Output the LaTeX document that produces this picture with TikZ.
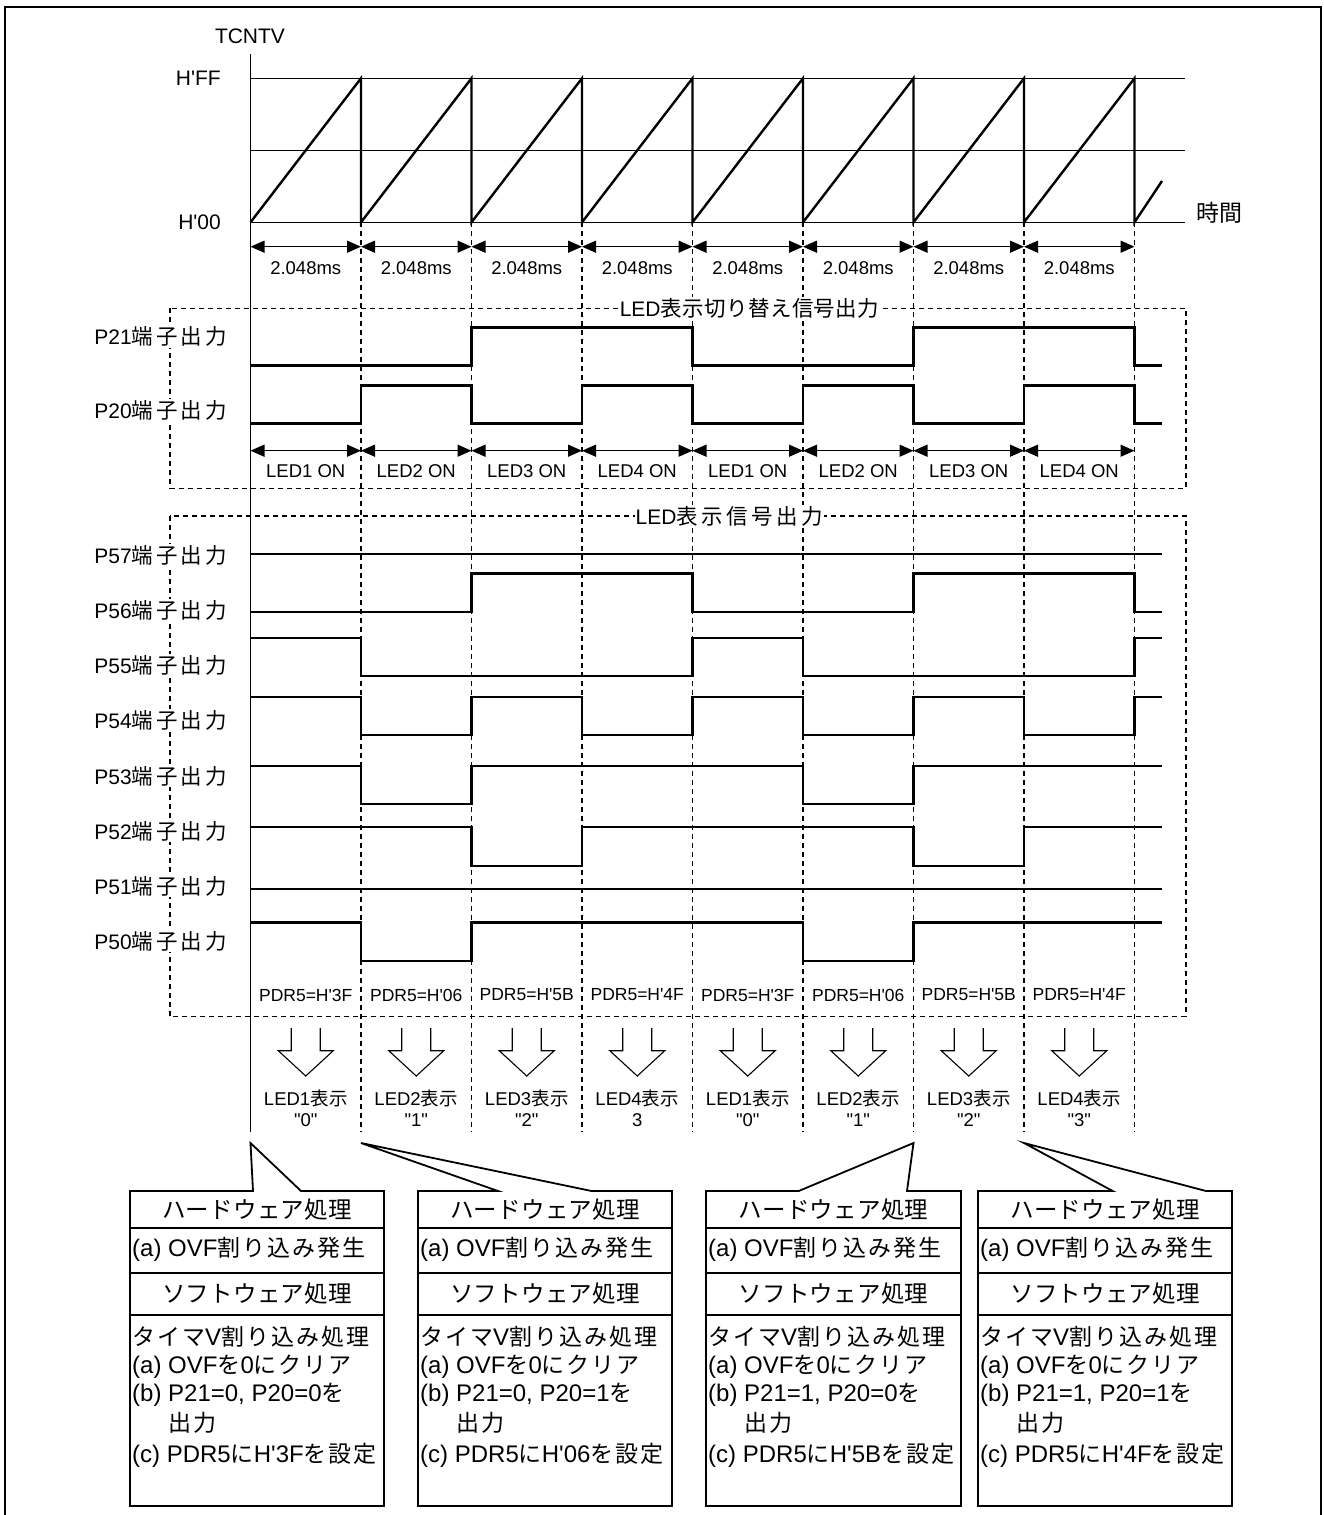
\documentclass[tikz,border=0pt]{standalone}
\usepackage{fontspec}
\usetikzlibrary{arrows.meta}
\newfontfamily\lat{Liberation Sans}
\newfontfamily\jpf{Noto Sans CJK JP}
\makeatletter
\newcommand\jsp[2]{{\jpf\@tfor\@jx:=#2\do{\@jx\kern#1}\kern-#1}}
\makeatother
\newcommand\JB[2][3pt]{{\fontsize{21.5}{25}\selectfont\jsp{#1}{#2}}}
\newcommand\JT[1]{{\fontsize{23}{27}\selectfont\jsp{0.5pt}{#1}}}
\newcommand\JS[1]{{\fontsize{18.5}{22}\selectfont\jsp{0.3pt}{#1}}}
\newcommand\JH[1]{{\fontsize{23.5}{27}\selectfont\jsp{0.2pt}{#1}}}
\newcommand\JC[1]{{\fontsize{23}{27}\selectfont\jsp{2pt}{#1}}}
\tikzset{
  sig/.style={line width=2.4pt, line join=miter},
  thinl/.style={line width=1.1pt},
  dsh/.style={line width=1.1pt, dash pattern=on 5pt off 4pt},
  dimarr/.style={line width=1.3pt, {Triangle[length=14pt,width=12pt]}-{Triangle[length=14pt,width=12pt]}},
  bigl/.style={font=\lat\fontsize{21}{25}\selectfont, inner sep=1pt},
  small/.style={font=\lat\fontsize{18.5}{22}\selectfont, inner sep=0pt},
  pdr/.style={font=\lat\fontsize{17.5}{21}\selectfont, inner sep=0pt},
  cbox/.style={line width=1.8pt, line join=miter},
  chead/.style={font=\lat\fontsize{23}{27}\selectfont, inner sep=0pt},
  cbody/.style={font=\lat\fontsize{24}{28}\selectfont, inner sep=0pt, anchor=west},
}
\newcommand\wave[4]{%
  \draw[sig] (250.5,{#2+(#1-#2)*#3}) \foreach[count=\i from 0, evaluate=\b as \yy using #2+(#1-#2)*\b] \b in {#4} { -- ({250.5+110.5*\i},\yy) -- ({min(250.5+110.5*(\i+1),1162)},\yy) };
}
\newcommand\callout[8]{%
  \draw[cbox] (#1,1191) -- (#3,1191) -- (#5,1143) -- (#4,1191) -- (#2,1191) -- (#2,1506) -- (#1,1506) -- cycle;
  \draw[cbox] (#1,1228) -- (#2,1228) (#1,1273) -- (#2,1273) (#1,1315) -- (#2,1315);
  \node[chead] (#8h1) at ({(#1+#2)/2},1209.5) {\JH{ハードウェア処理}};
  \node[cbody] (#8a) at (#1+2,1249) {(a) OVF\JC{割り込み発生}};
  \node[chead] (#8h2) at ({(#1+#2)/2},1294) {\JH{ソフトウェア処理}};
  \node[cbody] (#8t) at (#1+2,1337) {\JC{タイマ}V\JC{割り込み処理}};
  \node[cbody] (#8l1) at (#1+2,1367) {(a) OVF\JC{を}0\JC{にクリア}};
  \node[cbody] (#8l2) at (#1+2,1395) {(b) #6\JC{を}};
  \node[cbody] (#8l3) at (#1+38,1423) {\JC{出力}};
  \node[cbody] (#8l4) at (#1+2,1455) {(c) PDR5\JC{に}#7\JC{を設定}};
}
\begin{document}
\begin{tikzpicture}[x=1pt,y=-1pt]
\useasboundingbox (0,0) rectangle (1324,1515);
\fill[white] (0,0) rectangle (1324,1515);
% outer frame
\draw[line width=2.6pt] (5,1530) -- (5,7) -- (1321,7) -- (1321,1530);
% dashed time boundaries and axis
\foreach \i in {1,...,8} \draw[dsh] ({250.5+110.5*\i},222.3) -- ({250.5+110.5*\i},1132);
\draw[line width=1.2pt] (250.5,54) -- (250.5,1132);
% counter grid
\draw[thinl] (250.5,78.3) -- (1185,78.3) (250.5,150.3) -- (1185,150.3) (250.5,222.3) -- (1185,222.3);
\draw[sig] (250.5,222.3) \foreach \i in {1,...,8} { -- ({250.5+110.5*\i},78.3) -- ({250.5+110.5*\i},222.3) } -- (1162,181);
\node[bigl] (tcntv) at (250,36) {TCNTV};
\node[bigl,anchor=east] (hff) at (222,78.3) {H'FF};
\node[bigl,anchor=east] (h00) at (222,222.3) {H'00};
\node[bigl,anchor=west] (jikan) at (1195,213) {\JT{時間}};
% dashed groups
\draw[dsh] (170,308.3) rectangle (1186,488.3);
\draw[dsh] (170,516) rectangle (1186,1016.7);
\node[bigl,fill=white] (g1) at (749.5,308.3) {LED\JB[0.4pt]{表示切り替え信号出力}};
\node[bigl,fill=white] (g2) at (729.5,516) {LED\JB[3.6pt]{表示信号出力}};
% signals
\wave{327.3}{365.3}{0}{0,0,1,1,0,0,1,1,0}
\wave{385.3}{423.3}{0}{0,1,0,1,0,1,0,1,0}
\draw[sig] (250.5,554) -- (1162,554);
\wave{573.3}{611.7}{0}{0,0,1,1,0,0,1,1,0}
\wave{637.7}{675.7}{1}{1,0,0,0,1,0,0,0,1}
\wave{696.7}{735}{1}{1,0,1,0,1,0,1,0,1}
\wave{766}{804}{1}{1,0,1,1,1,0,1,1,1}
\wave{826.7}{866}{1}{1,1,0,1,1,1,0,1,1}
\draw[sig] (250.5,889) -- (1162,889);
\wave{922.3}{960.7}{1}{1,0,1,1,1,0,1,1,1}
% signal labels
\foreach \n/\yy in {21/336.7,20/410,57/555,56/610,55/665,54/720,53/776,52/831,51/886,50/941}
  \node[bigl,anchor=east,fill=white] (lp\n) at (228,\yy) {P\n\JB{端子出力}};
% per-period items
\foreach \i/\ld/\pv/\vv in {0/1/3F/"0",1/2/06/"1",2/3/5B/"2",3/4/4F/3,4/1/3F/"0",5/2/06/"1",6/3/5B/"2",7/4/4F/"3"} {
  \pgfmathsetmacro\cx{305.75+110.5*\i}
  \pgfmathsetmacro\ta{250.5+110.5*\i}
  \pgfmathsetmacro\tb{361+110.5*\i}
  \draw[dimarr] (\ta,246.7) -- (\tb,246.7);
  \node[small] (ms\i) at (\cx,267.7) {2.048ms};
  \draw[dimarr] (\ta,450.7) -- (\tb,450.7);
  \node[small] (on\i) at (\cx,470.7) {LED\ld{} ON};
  \node[pdr] (pd\i) at (\cx,995) {PDR5=H'\pv};
  \draw[thinl] (\cx-14.5,1028) -- (\cx-14.5,1050.7) -- (\cx-27.5,1050.7) -- (\cx,1076) -- (\cx+27.5,1050.7) -- (\cx+14.5,1050.7) -- (\cx+14.5,1028);
  \node[small] (ld\i) at (\cx,1098) {LED\ld\JS{表示}};
  \node[small] (vv\i) at (\cx,1120) {\vv};
}
% callouts
\callout{130}{384}{253}{301}{250.5}{P21=0, P20=0}{H'3F}{ca}
\callout{418}{672}{498}{591.6}{361}{P21=0, P20=1}{H'06}{cb}
\callout{706}{961}{798.7}{907}{913.5}{P21=1, P20=0}{H'5B}{cc}
\callout{978}{1232}{1112.7}{1206}{1024}{P21=1, P20=1}{H'4F}{cd}
\end{tikzpicture}
\end{document}
